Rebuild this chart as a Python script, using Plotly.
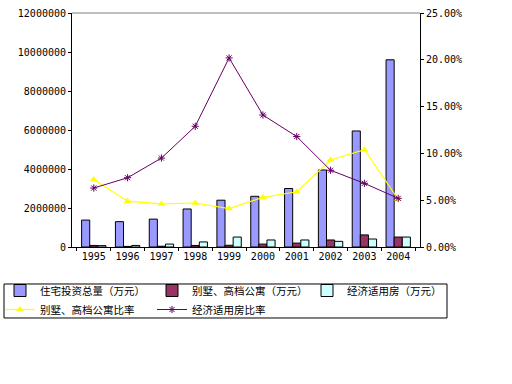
import plotly.graph_objects as go

years = ["1995", "1996", "1997", "1998", "1999", "2000", "2001", "2002", "2003", "2004"]
total_invest = [1380000, 1300000, 1430000, 1950000, 2400000, 2600000, 3000000, 3950000, 5950000, 9600000]
villa_invest = [80000, 30000, 40000, 80000, 90000, 150000, 200000, 360000, 620000, 510000]
afford_invest = [70000, 80000, 150000, 260000, 510000, 360000, 360000, 290000, 410000, 510000]
villa_ratio = [0.072, 0.049, 0.046, 0.047, 0.041, 0.053, 0.059, 0.093, 0.104, 0.051]
afford_ratio = [0.063, 0.074, 0.095, 0.129, 0.202, 0.141, 0.118, 0.082, 0.068, 0.052]

names = ["住宅投资总量（万元）", "别墅、高档公寓（万元）", "经济适用房（万元）", "别墅、高档公寓比率", "经济适用房比率"]

font_cjk = "Noto Sans CJK SC"
fig = go.Figure()
fig.add_bar(x=years, y=total_invest, name=names[0], legend="legend",
            marker=dict(color="#9999FF", line=dict(color="black", width=1)))
fig.add_bar(x=years, y=villa_invest, name=names[1], legend="legend2",
            marker=dict(color="#993366", line=dict(color="black", width=1)))
fig.add_bar(x=years, y=afford_invest, name=names[2], legend="legend3",
            marker=dict(color="#CCFFFF", line=dict(color="black", width=1)))
fig.add_scatter(x=years, y=villa_ratio, name=names[3], yaxis="y2", mode="lines+markers", legend="legend",
                line=dict(color="#FFFF00", width=1.2),
                marker=dict(symbol="triangle-up", size=7, color="#FFFF00"))
fig.add_scatter(x=years, y=afford_ratio, name=names[4], yaxis="y2", mode="lines+markers", legend="legend2",
                line=dict(color="#660066", width=1),
                marker=dict(symbol="asterisk-open", size=6, color="#660066", line=dict(color="#660066", width=1)))


def leg(left_px):
    return dict(orientation="v", xref="container", yref="container",
                x=left_px / 512, xanchor="left", y=1 - 276 / 384, yanchor="top",
                borderwidth=0, bgcolor="rgba(0,0,0,0)", itemwidth=30,
                font=dict(family=font_cjk, size=10.5), tracegroupgap=0, traceorder="normal")


fig.update_layout(
    width=512, height=384,
    margin=dict(l=72, r=92, t=13, b=137, autoexpand=False),
    paper_bgcolor="white", plot_bgcolor="white",
    barmode="group", bargap=0.28, bargroupgap=0,
    font=dict(family=font_cjk, size=10, color="black"),
    showlegend=True,
    legend=leg(0), legend2=leg(152), legend3=leg(307),
    xaxis=dict(type="category", showline=True, linecolor="black", linewidth=1,
               ticks="outside", tickson="boundaries", ticklen=3, tickcolor="black",
               showgrid=False, automargin=False, tickfont=dict(family="DejaVu Sans Mono", size=10)),
    yaxis=dict(range=[0, 12000000], dtick=2000000, tickformat="d", showline=True,
               linecolor="black", linewidth=1, ticks="outside", ticklen=3, tickcolor="black",
               showgrid=False, zeroline=False, automargin=False,
               tickfont=dict(family="DejaVu Sans Mono", size=10)),
    yaxis2=dict(range=[0, 0.25], dtick=0.05, tickformat=".2%", overlaying="y", side="right",
                showline=True, linecolor="black", linewidth=1, ticks="outside", ticklen=3,
                tickcolor="black", showgrid=False, zeroline=False, automargin=False,
                tickfont=dict(family="DejaVu Sans Mono", size=10)),
    shapes=[
        dict(type="line", xref="paper", yref="paper", x0=0, x1=1, y0=1, y1=1,
             line=dict(color="gray", width=1)),
        dict(type="rect", xref="paper", yref="paper", x0=-0.1954, x1=1.0776, y0=-0.1581, y1=-0.3034,
             line=dict(color="black", width=1), fillcolor="rgba(0,0,0,0)", layer="above"),
    ],
)

fig.write_html("out.html", config={"displayModeBar": False},
               post_script="document.body.style.margin='0';document.body.style.padding='0';")
